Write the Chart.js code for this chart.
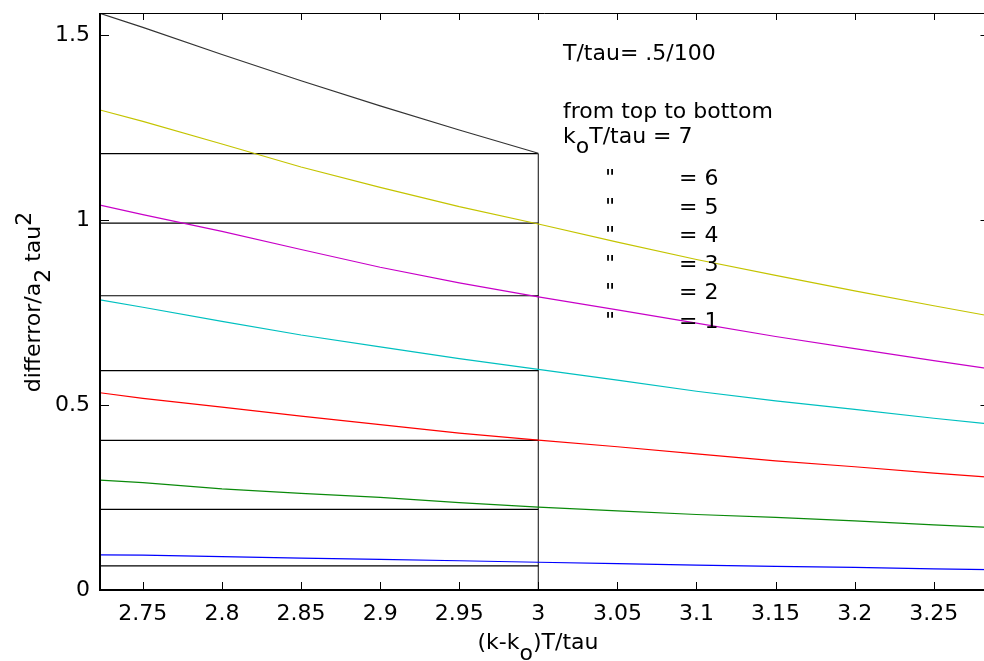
<!DOCTYPE html>
<html>
<head>
<meta charset="utf-8">
<script src="https://cdn.jsdelivr.net/npm/chart.js@4.4.1/dist/chart.umd.min.js"></script>
<style>
  html, body { margin: 0; padding: 0; background: #fff; overflow: hidden; }
  canvas { display: block; }
</style>
</head>
<body>
<canvas id="chart" width="990" height="661"></canvas>
<script>
// (k-k0)T/tau sample points
const xShort = [2.7229, 2.75, 2.8, 2.85, 2.9, 2.95, 3.0];
const xLong = [2.7229, 2.75, 2.8, 2.85, 2.9, 2.95, 3.0, 3.05, 3.1, 3.15, 3.2, 3.25, 3.2846];

// differror / (a2 tau^2), k0 T/tau = 7 ... 1
const err7 = [1.558, 1.520, 1.447, 1.376, 1.308, 1.243, 1.180];
const err6 = [1.297, 1.266, 1.205, 1.143, 1.088, 1.036, 0.989, 0.940, 0.893, 0.850, 0.808, 0.768, 0.741];
const err5 = [1.040, 1.014, 0.969, 0.920, 0.872, 0.830, 0.792, 0.757, 0.721, 0.685, 0.652, 0.620, 0.598];
const err4 = [0.784, 0.764, 0.726, 0.689, 0.657, 0.625, 0.596, 0.567, 0.537, 0.511, 0.488, 0.464, 0.449];
const err3 = [0.533, 0.518, 0.494, 0.470, 0.447, 0.424, 0.405, 0.387, 0.368, 0.349, 0.333, 0.316, 0.305];
const err2 = [0.297, 0.290, 0.273, 0.261, 0.250, 0.236, 0.224, 0.214, 0.204, 0.196, 0.187, 0.176, 0.169];
const err1 = [0.095, 0.094, 0.090, 0.086, 0.083, 0.079, 0.075, 0.071, 0.067, 0.064, 0.061, 0.057, 0.055];

// reference levels drawn from the left edge to x = 3
const refLevels = [1.179, 0.991, 0.795, 0.593, 0.4045, 0.218, 0.065];
const refX = [2.7229, 3.0];
const markX = 3.0;

const xMin = 2.7229, xMax = 3.2846;
const yMin = 0, yMax = 1.559;
const xStep = 0.05, yStep = 0.5;

const FONT = '"DejaVu Sans", "Liberation Sans", Arial, sans-serif';

const toPoints = (xs, ys) => ys.map((v, i) => ({ x: xs[i], y: v }));

const curve = (data, color) => ({
  data, borderColor: color, borderWidth: 1.2, pointRadius: 0, tension: 0, fill: false
});

const datasets = [
  curve(toPoints(xShort, err7), '#333333'),
  curve(toPoints(xLong, err6), '#c4c400'),
  curve(toPoints(xLong, err5), '#c800c8'),
  curve(toPoints(xLong, err4), '#00c0c0'),
  curve(toPoints(xLong, err3), '#ff0000'),
  curve(toPoints(xLong, err2), '#0a8a0a'),
  curve(toPoints(xLong, err1), '#0000ff'),
];
refLevels.forEach(v => {
  datasets.push(curve(refX.map(x => ({ x, y: v })), '#000000'));
});
datasets.push(curve([{ x: markX, y: 0 }, { x: markX, y: refLevels[0] }], '#333333'));

// draws text with subscript/superscript pieces: [text, shift]
function drawRich(ctx, parts, x, y, align) {
  const total = parts.reduce((s, p) => s + ctx.measureText(p[0]).width, 0);
  let cx = align === 'center' ? x - total / 2 : x;
  parts.forEach(([t, dy]) => {
    ctx.fillText(t, cx, y + dy);
    cx += ctx.measureText(t).width;
  });
}

const frame = {
  id: 'frame',
  afterDatasetsDraw(chart) {
    const { ctx, chartArea: a, scales: { x, y } } = chart;
    ctx.save();
    ctx.strokeStyle = '#000';
    ctx.lineWidth = 1;
    ctx.beginPath();
    ctx.moveTo(a.left, a.top + 0.5);
    ctx.lineTo(a.right, a.top + 0.5);
    ctx.moveTo(a.right, a.top);
    ctx.lineTo(a.right, a.bottom);
    x.ticks.forEach(t => {
      const px = Math.round(x.getPixelForValue(t.value)) + 0.5;
      ctx.moveTo(px, a.bottom);
      ctx.lineTo(px, a.bottom - 8);
      ctx.moveTo(px, a.top);
      ctx.lineTo(px, a.top + 7);
    });
    y.ticks.forEach(t => {
      const py = Math.round(y.getPixelForValue(t.value)) + 0.5;
      ctx.moveTo(a.left, py);
      ctx.lineTo(a.left + 9, py);
      ctx.moveTo(a.right, py);
      ctx.lineTo(a.right - 8, py);
    });
    ctx.stroke();
    ctx.lineWidth = 2;
    ctx.beginPath();
    ctx.moveTo(a.left, a.top);
    ctx.lineTo(a.left, a.bottom);
    ctx.lineTo(a.right, a.bottom);
    ctx.stroke();
    ctx.restore();
  },
  afterDraw(chart) {
    const { ctx } = chart;
    ctx.save();
    ctx.fillStyle = '#000';
    ctx.font = '22px ' + FONT;
    ctx.textBaseline = 'alphabetic';
    ctx.textAlign = 'left';

    // axis titles
    drawRich(ctx, [['(k-k', 0], ['o', 11], [')T/tau', 0]], 538, 649, 'center');
    ctx.save();
    ctx.translate(40, 302);
    ctx.rotate(-Math.PI / 2);
    drawRich(ctx, [['differror/a', 0], ['2', 10], [' tau', 0], ['2', -9]], 0, 0, 'center');
    ctx.restore();

    // annotation block
    ctx.fillText('T/tau= .5/100', 563, 60);
    ctx.fillText('from top to bottom', 563, 118);
    drawRich(ctx, [['k', 0], ['o', 10], ['T/tau = 7', 0]], 563, 143, 'left');
    ['6', '5', '4', '3', '2', '1'].forEach((n, i) => {
      const by = 185 + i * 28.6;
      ctx.fillText('"', 605, by);
      ctx.fillText('= ' + n, 679, by);
    });
    ctx.restore();
  }
};

new Chart(document.getElementById('chart').getContext('2d'), {
  type: 'line',
  data: { datasets },
  options: {
    responsive: false,
    devicePixelRatio: 1,
    animation: false,
    layout: { padding: { top: 13, right: 1.5, left: 0, bottom: 0 } },
    plugins: { legend: { display: false }, tooltip: { enabled: false } },
    scales: {
      x: {
        type: 'linear',
        min: xMin,
        max: xMax,
        grid: { display: false, drawTicks: false },
        border: { display: false },
        ticks: {
          stepSize: xStep,
          includeBounds: false,
          autoSkip: false,
          maxRotation: 0,
          padding: 11,
          color: '#000',
          font: { family: FONT, size: 22 },
          callback: v => String(+v.toFixed(2))
        },
        afterFit: s => { s.height = 71; s.paddingLeft = 0; s.paddingRight = 0; }
      },
      y: {
        type: 'linear',
        min: yMin,
        max: yMax,
        grid: { display: false, drawTicks: false },
        border: { display: false },
        ticks: {
          stepSize: yStep,
          includeBounds: false,
          padding: 10,
          color: '#000',
          font: { family: FONT, size: 22 },
          callback: v => String(+v.toFixed(2))
        },
        afterFit: s => { s.width = 100; s.paddingTop = 0; s.paddingBottom = 0; }
      }
    }
  },
  plugins: [frame]
});
</script>
</body>
</html>
